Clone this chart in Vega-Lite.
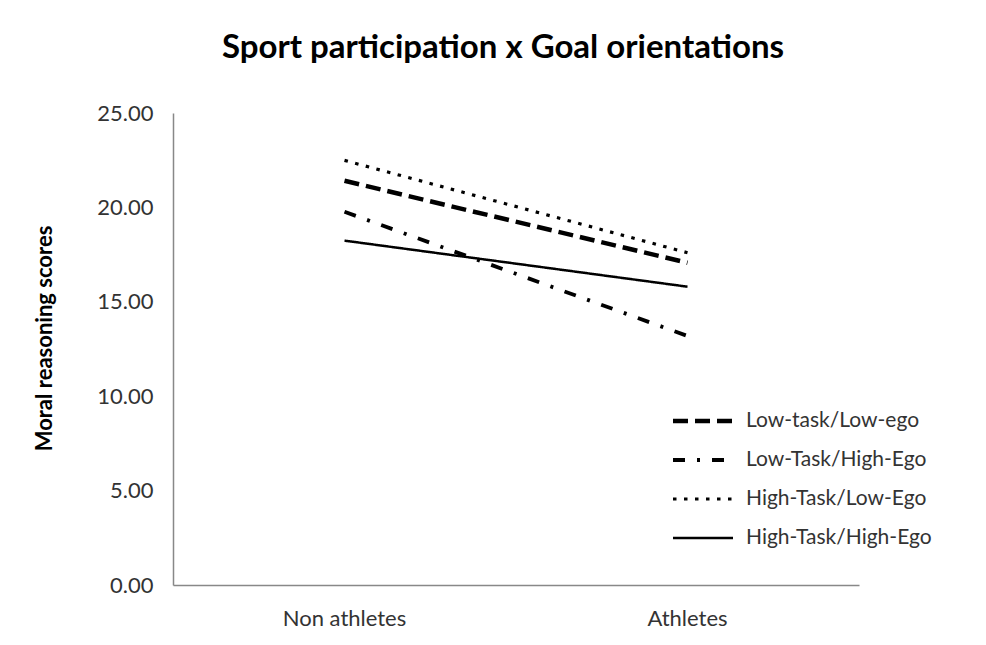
{
  "$schema": "https://vega.github.io/schema/vega-lite/v6.json",
  "autosize": "none",
  "width": 686,
  "height": 472,
  "padding": {"left": 173, "top": 113, "right": 127, "bottom": 60},
  "background": "white",
  "title": {
    "text": "Sport participation x Goal orientations",
    "font": "Lato",
    "fontSize": 33,
    "fontWeight": "bold",
    "color": "#000000",
    "anchor": "middle",
    "dx": -13,
    "offset": 37
  },
  "data": {
    "values": [
      {"group": "Non athletes", "orientation": "Low-task/Low-ego", "score": 21.41},
      {"group": "Athletes", "orientation": "Low-task/Low-ego", "score": 17.07},
      {"group": "Non athletes", "orientation": "Low-Task/High-Ego", "score": 19.77},
      {"group": "Athletes", "orientation": "Low-Task/High-Ego", "score": 13.19},
      {"group": "Non athletes", "orientation": "High-Task/Low-Ego", "score": 22.49},
      {"group": "Athletes", "orientation": "High-Task/Low-Ego", "score": 17.6},
      {"group": "Non athletes", "orientation": "High-Task/High-Ego", "score": 18.24},
      {"group": "Athletes", "orientation": "High-Task/High-Ego", "score": 15.8}
    ]
  },
  "mark": {"type": "line", "color": "#000000", "strokeCap": "butt"},
  "encoding": {
    "x": {
      "field": "group",
      "type": "nominal",
      "sort": ["Non athletes", "Athletes"],
      "scale": {"type": "band", "paddingInner": 0, "paddingOuter": 0},
      "axis": {
        "title": null,
        "labelAngle": 0,
        "ticks": false,
        "labelPadding": 23,
        "labelFont": "Lato",
        "labelFontSize": 22,
        "labelColor": "#333333",
        "domainColor": "#888888",
        "domainWidth": 1.5
      }
    },
    "y": {
      "field": "score",
      "type": "quantitative",
      "scale": {"domain": [0, 25], "nice": false},
      "axis": {
        "values": [0, 5, 10, 15, 20, 25],
        "format": ".2f",
        "grid": false,
        "ticks": false,
        "labelPadding": 20,
        "labelFont": "Lato",
        "labelFontSize": 22,
        "labelColor": "#333333",
        "domainColor": "#888888",
        "domainWidth": 1.5,
        "title": "Moral reasoning scores",
        "titleFont": "Lato",
        "titleFontSize": 22,
        "titleFontWeight": "bold",
        "titleColor": "#000000",
        "titleX": -129,
        "titleY": 225,
        "titleAngle": -90,
        "titleAlign": "center",
        "titleBaseline": "middle"
      }
    },
    "strokeDash": {
      "field": "orientation",
      "type": "nominal",
      "sort": ["Low-task/Low-ego", "Low-Task/High-Ego", "High-Task/Low-Ego", "High-Task/High-Ego"],
      "scale": {"range": [[15, 7], [12, 12, 3, 12], [3.5, 7.5], [1, 0]]},
      "legend": {
        "title": null,
        "orient": "none",
        "legendX": 530,
        "legendY": 308,
        "symbolType": "stroke",
        "symbolSize": 3600,
        "symbolStrokeColor": "#000000",
        "labelFont": "Lato",
        "labelFontSize": 21,
        "labelColor": "#333333",
        "labelLimit": 400,
        "rowPadding": 18,
        "labelOffset": 14,
        "encode": {
          "symbols": {
            "update": {
              "strokeWidth": {"signal": "scale('strokeWidth', datum.value)"}
            }
          },
          "labels": {
            "update": {
              "dx": {"value": 43}
            }
          }
        }
      }
    },
    "strokeWidth": {
      "field": "orientation",
      "type": "nominal",
      "sort": ["Low-task/Low-ego", "Low-Task/High-Ego", "High-Task/Low-Ego", "High-Task/High-Ego"],
      "scale": {"range": [4.5, 2.5, 4, 3]},
      "legend": null
    }
  },
  "config": {"view": {"stroke": null}}
}
